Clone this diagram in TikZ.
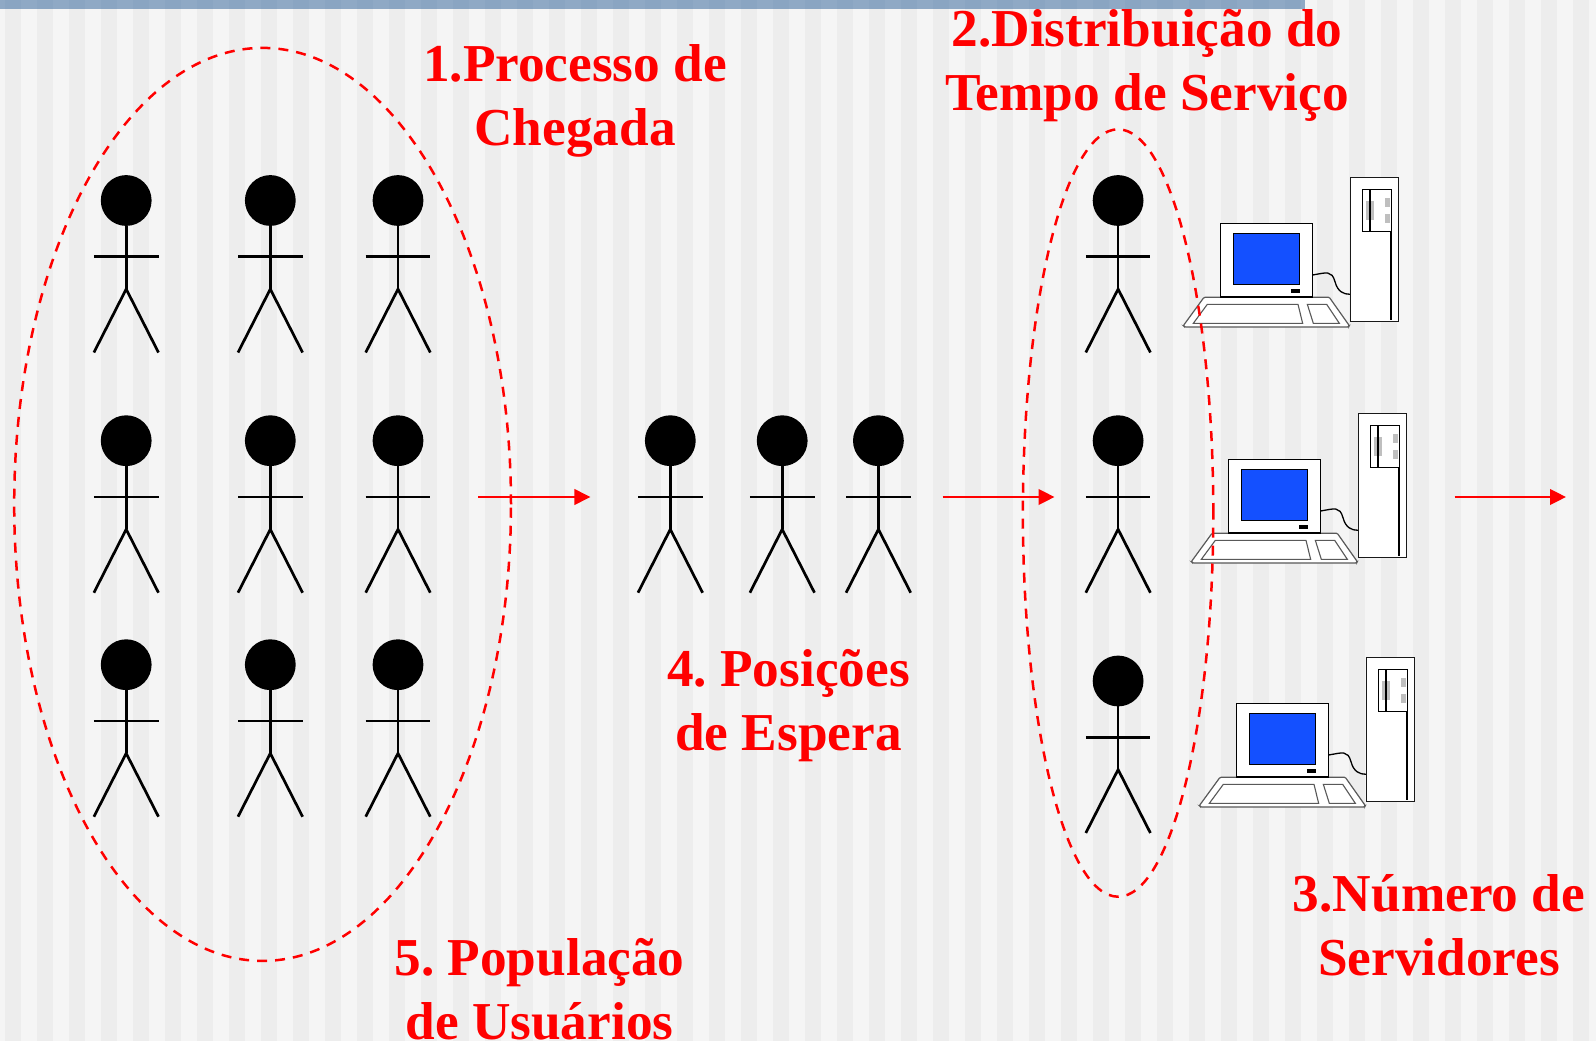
\documentclass[tikz,border=0pt]{standalone}
\usepackage{fontspec}
\setmainfont{Liberation Serif}
\usetikzlibrary{arrows.meta,shapes.geometric}
\definecolor{stripeA}{HTML}{F5F5F5}
\definecolor{stripeB}{HTML}{EDEDED}
\definecolor{barcol}{HTML}{8FA9C5}
\definecolor{barcolB}{HTML}{8AA5C2}
\definecolor{screenblue}{HTML}{1450FF}
\tikzset{
  limb/.style={draw=black,line width=2.7pt,line cap=butt},
  redlabel/.style={text=red,font=\fontsize{53.3}{64}\selectfont\bfseries\frenchspacing,align=center,inner sep=0pt,anchor=center},
  flow/.style={draw=red,line width=2.6pt,-{Triangle[length=16pt,width=15.5pt]}},
  group/.style={draw=red,line width=2.5pt,dash pattern=on 10pt off 8pt},
  person/.pic={
    \fill[black] (0,0) circle (25.4);
    \draw[limb] (0,25) -- (0,88.6);
    \draw[limb] (-32.3,56.3) -- (32.3,56.3);
    \draw[limb,line join=miter] (-32.3,152) -- (0,88.6) -- (32.3,152);
  },
  computer/.pic={
    \begin{scope}[x=0.3333pt,y=-0.3333pt]
    \draw[fill=white,draw=black!65,line width=1.2pt,rounded corners=1pt] (162,412) -- (538,412) -- (598,497) -- (596,501) -- (104,501) -- (100,497) -- cycle;
    \draw[fill=white,draw=black!65,line width=1.1pt] (172,433) -- (444,433) -- (458,490) -- (130,490) -- cycle;
    \draw[fill=white,draw=black!65,line width=1.1pt] (472,433) -- (530,433) -- (568,490) -- (490,490) -- cycle;
    \draw[draw=black,line width=1.3pt] (488,345) .. controls (530,338) and (545,330) .. (555,365) .. controls (563,395) and (580,403) .. (601,403);
    \draw[fill=white,draw=black,line width=1.3pt] (212,190) rectangle (487,411);
    \draw[fill=screenblue,draw=black,line width=1.1pt] (250,220) rectangle (448,373);
    \fill[black] (423,387) rectangle (450,399);
    \draw[fill=white,draw=black!90,line width=1.3pt] (601,52) rectangle (745,484);
    \fill[black!25] (648,123) rectangle (672,180);
    \fill[black!25] (704,114) rectangle (720,141);
    \fill[black!25] (704,162) rectangle (720,189);
    \draw[black,line width=1.3pt] (637,214) -- (637,88) -- (724,88) -- (724,214) -- cycle;
    \draw[black,line width=2pt] (660,88) -- (660,214);
    \draw[black,line width=2pt] (722,214) -- (722,480);
    \end{scope}
  }
}
\begin{document}
\begin{tikzpicture}[x=1pt,y=-1pt]
\useasboundingbox (0,0) rectangle (1596,1041);
\fill[stripeA] (0,0) rectangle (1596,1041);
\foreach \k in {0,...,49} {
  \fill[stripeB] ({5+32*\k},0) rectangle ({21+32*\k},1041);
}
\fill[barcol] (0,0) rectangle (1305,9);
\foreach \k in {0,...,40} {
  \fill[barcolB] ({5+32*\k},0) rectangle ({21+32*\k},9);
}
% computers
\pic at (1150,160) {computer};
\pic at (1158,396) {computer};
\pic at (1166,640) {computer};
% people
\foreach \px in {126.2,270.3,398} {
  \pic at (\px,200.5) {person};
  \pic at (\px,440.7) {person};
  \pic at (\px,664.7) {person};
}
\foreach \px in {670.3,782.2,878.4} {
  \pic at (\px,440.7) {person};
}
\pic at (1118.1,200.5) {person};
\pic at (1118.1,440.7) {person};
\pic at (1118.1,681) {person};
% groups
\node[group,shape=ellipse,minimum width=496.8pt,minimum height=913pt,inner sep=0pt] (population) at (262.6,504.4) {};
\node[group,shape=ellipse,minimum width=190.4pt,minimum height=767.4pt,inner sep=0pt] (service) at (1118.1,513) {};
% arrows
\coordinate (a1s) at (478.3,497); \coordinate (a1e) at (590.4,497);
\coordinate (a2s) at (942.6,497); \coordinate (a2e) at (1054.5,497);
\coordinate (a3s) at (1454.5,497); \coordinate (a3e) at (1566,497);
\draw[flow] (a1s) -- (a1e);
\draw[flow] (a2s) -- (a2e);
\draw[flow] (a3s) -- (a3e);
% labels
\node[redlabel] (l1) at (575,100.5) {1.Processo de\\Chegada};
\node[redlabel] (l2) at (1147,66) {2.Distribuição do\\Tempo de Serviço};
\node[redlabel] (l3) at (1439,925) {3.Número de\\Servidores};
\node[redlabel] (l4) at (788.5,706) {4. Posições\\de Espera};
\node[redlabel] (l5) at (539.5,989) {5. População\\de Usuários};
\end{tikzpicture}
\end{document}
